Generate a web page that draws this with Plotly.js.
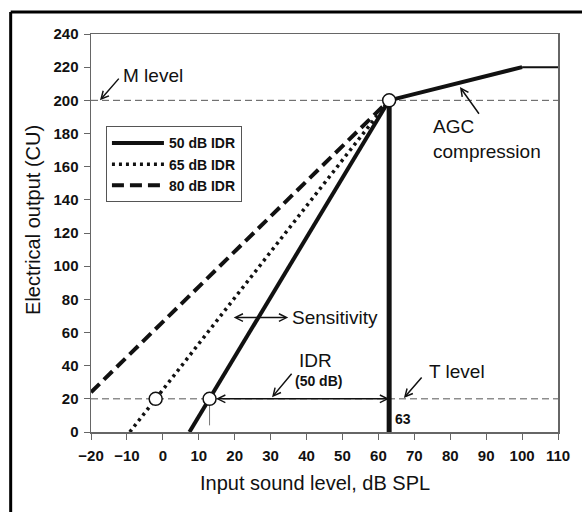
<!DOCTYPE html>
<html>
<head>
<meta charset="utf-8">
<script src="https://cdn.plot.ly/plotly-3.0.1.min.js"></script>
<style>html,body{margin:0;padding:0;background:#fff;}</style>
</head>
<body>
<div id="chart" style="width:582px;height:512px;"></div>
<script>
// ---- data ----
const seriesNames = ['50 dB IDR', '65 dB IDR', '80 dB IDR'];
const x50 = [7.4, 63];   const y50 = [0, 200];
const x65 = [-9.2, 63];  const y65 = [0, 200];
const x80 = [-20, 63];   const y80 = [24, 200];
const xVert = [63, 63];  const yVert = [0, 200];
const xAgc = [63, 100];  const yAgc = [200, 220];
const xSat = [100, 110]; const ySat = [220, 220];
const xRange = [-20, 110];
const mLevel = 200;
const tLevel = 20;
const xTick13 = [13, 13]; const yTick13 = [4, 20];
const xCircles = [63, -2, 13]; const yCircles = [200, 20, 20];
const xTickVals = [-20, -10, 0, 10, 20, 30, 40, 50, 60, 70, 80, 90, 100, 110];
const yTickVals = [0, 20, 40, 60, 80, 100, 120, 140, 160, 180, 200, 220, 240];
const xTitle = 'Input sound level, dB SPL';
const yTitle = 'Electrical output (CU)';

const narrow = '"Liberation Sans Narrow", "Arial Narrow", "Liberation Sans", Arial, sans-serif';
const sans = '"Liberation Sans", Arial, sans-serif';

const traces = [
  {x: xRange, y: [mLevel, mLevel], mode: 'lines', showlegend: false, hoverinfo: 'skip',
   line: {color: '#555', width: 1, dash: '7px,4px'}},
  {x: xRange, y: [tLevel, tLevel], mode: 'lines', showlegend: false, hoverinfo: 'skip',
   line: {color: '#555', width: 1, dash: '7px,4px'}},
  {x: xTick13, y: yTick13, mode: 'lines', showlegend: false, hoverinfo: 'skip',
   line: {color: '#777', width: 1}},
  {x: x50, y: y50, mode: 'lines', name: seriesNames[0], line: {color: '#111', width: 4}},
  {x: x65, y: y65, mode: 'lines', name: seriesNames[1], line: {color: '#111', width: 3.5, dash: '3px,4px'}},
  {x: x80, y: y80, mode: 'lines', name: seriesNames[2], line: {color: '#111', width: 4, dash: '12px,6px'}},
  {x: xVert, y: yVert, mode: 'lines', showlegend: false, line: {color: '#111', width: 5}},
  {x: xAgc, y: yAgc, mode: 'lines', showlegend: false, line: {color: '#111', width: 4}},
  {x: xSat, y: ySat, mode: 'lines', showlegend: false, line: {color: '#111', width: 2}},
  {x: xCircles, y: yCircles, mode: 'markers', showlegend: false, cliponaxis: false,
   marker: {symbol: 'circle', size: 13, color: '#fff', line: {color: '#111', width: 1.5}}}
];

const arrowBase = {showarrow: true, text: '', xref: 'x', yref: 'y', axref: 'x', ayref: 'y',
  arrowhead: 5, arrowsize: 1, arrowwidth: 1.5, arrowcolor: '#111', standoff: 0};

const annotations = [
  // axis titles
  {text: xTitle, xref: 'paper', yref: 'paper', x: 0.4807, y: -0.128, showarrow: false,
   xanchor: 'center', yanchor: 'middle', font: {family: sans, size: 20, color: '#111'}},
  {text: yTitle, xref: 'paper', yref: 'paper', x: -0.124, y: 0.533, showarrow: false, textangle: -90,
   xanchor: 'center', yanchor: 'middle', font: {family: sans, size: 20, color: '#111'}},
  // M level
  {text: 'M level', x: -11.6, y: 215, xref: 'x', yref: 'y', showarrow: false, xanchor: 'left', yanchor: 'middle',
   font: {family: sans, size: 19, color: '#111'}},
  Object.assign({}, arrowBase, {x: -17.5, y: 200, ax: -11.9, ay: 214}),
  // AGC compression
  {text: 'AGC<br>compression', x: 74.7, y: 192, xref: 'x', yref: 'y', showarrow: false, xanchor: 'left', yanchor: 'top',
   align: 'left', font: {family: sans, size: 19, color: '#111'}},
  Object.assign({}, arrowBase, {x: 82.7, y: 208, ax: 88.3, ay: 191}),
  // Sensitivity
  {text: 'Sensitivity', x: 35.4, y: 69, xref: 'x', yref: 'y', showarrow: false, xanchor: 'left', yanchor: 'middle',
   font: {family: sans, size: 19, color: '#111'}},
  Object.assign({}, arrowBase, {x: 34.9, y: 69, ax: 19.3, ay: 69, arrowside: 'end+start'}),
  // IDR
  {text: 'IDR', x: 42.6, y: 43.4, xref: 'x', yref: 'y', showarrow: false, xanchor: 'center', yanchor: 'middle',
   font: {family: sans, size: 19, color: '#111'}},
  {text: '<b>(50 dB)</b>', x: 43.2, y: 30.8, xref: 'x', yref: 'y', showarrow: false, xanchor: 'center', yanchor: 'middle',
   font: {family: narrow, size: 14, color: '#111'}},
  Object.assign({}, arrowBase, {x: 30.4, y: 21, ax: 36.2, ay: 36}),
  Object.assign({}, arrowBase, {x: 63, y: 20, ax: 13, ay: 20, arrowside: 'end+start', startstandoff: 5}),
  // T level
  {text: 'T level', x: 73.5, y: 36.2, xref: 'x', yref: 'y', showarrow: false, xanchor: 'left', yanchor: 'middle',
   font: {family: sans, size: 19, color: '#111'}},
  Object.assign({}, arrowBase, {x: 67.1, y: 20.5, ax: 72.4, ay: 33.8}),
  // 63 label
  {text: '<b>63</b>', x: 64.2, y: 8, xref: 'x', yref: 'y', showarrow: false, xanchor: 'left', yanchor: 'middle',
   font: {family: narrow, size: 14, color: '#111'}}
];

const shapes = [
  {type: 'line', xref: 'paper', yref: 'paper', x0: -0.172, x1: 1.06, y0: 1.0553, y1: 1.0553,
   line: {color: '#000', width: 3}},
  {type: 'line', xref: 'paper', yref: 'paper', x0: -0.172, x1: -0.172, y0: 1.0553, y1: -0.21,
   line: {color: '#000', width: 3}}
];

const layout = {
  width: 582, height: 512,
  margin: {l: 91, r: 24, t: 34, b: 80},
  paper_bgcolor: '#fff', plot_bgcolor: '#fff',
  showlegend: true,
  legend: {x: 0.032, y: 0.768, xanchor: 'left', yanchor: 'top', bgcolor: '#fff',
    bordercolor: '#555', borderwidth: 1, font: {family: narrow, size: 14, color: '#111', weight: 'bold'},
    tracegroupgap: 0, itemwidth: 52},
  xaxis: {range: xRange, tickvals: xTickVals, ticks: 'outside', ticklen: 6, tickwidth: 1, tickcolor: '#666',
    showline: true, linecolor: '#666', linewidth: 1.5, mirror: true, showgrid: false, zeroline: false,
    ticklabelstandoff: 3,
    tickfont: {family: narrow, size: 15, color: '#111', weight: 'bold'}},
  yaxis: {range: [0, 240], tickvals: yTickVals, ticks: 'outside', ticklen: 6, tickwidth: 1, tickcolor: '#666',
    showline: true, linecolor: '#666', linewidth: 1.5, mirror: true, showgrid: false, zeroline: false,
    ticklabelstandoff: 2,
    tickfont: {family: narrow, size: 15, color: '#111', weight: 'bold'}},
  annotations: annotations,
  shapes: shapes
};

Plotly.newPlot('chart', traces, layout, {staticPlot: true});
</script>
</body>
</html>
